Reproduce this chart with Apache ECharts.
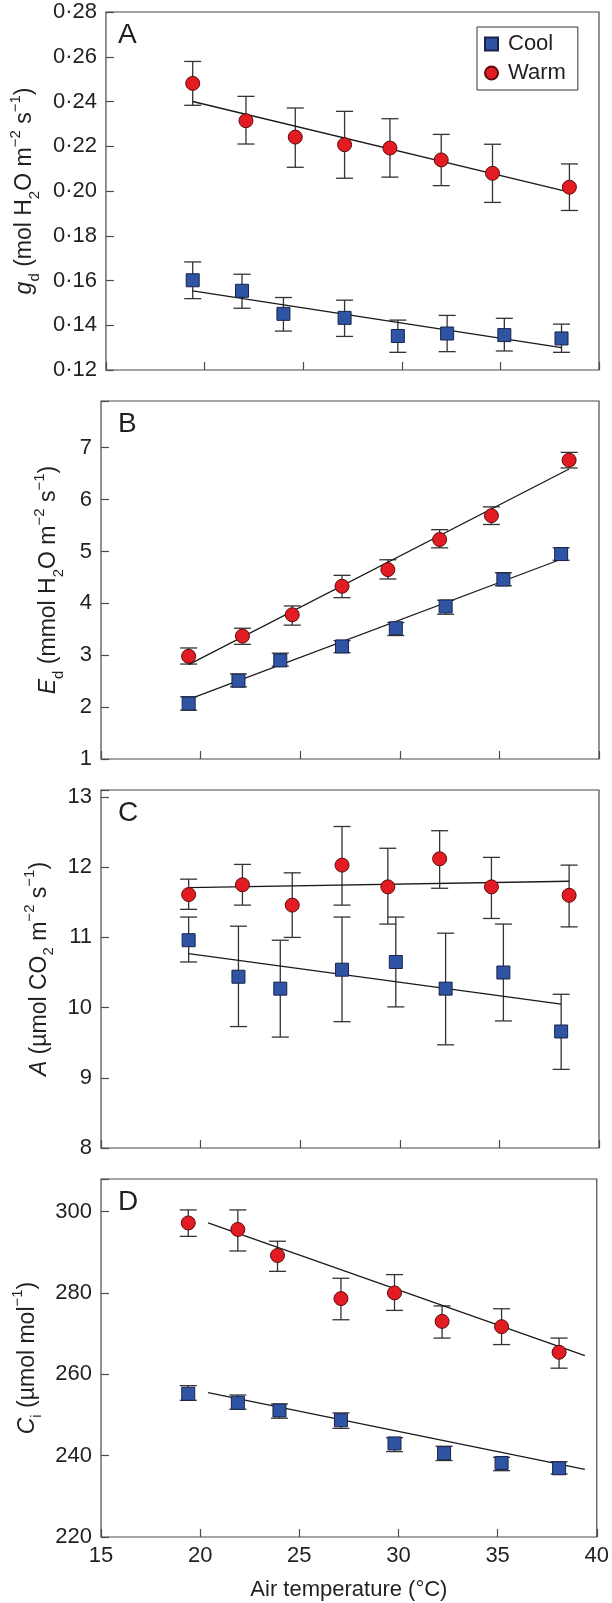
<!DOCTYPE html>
<html><head><meta charset="utf-8">
<script src="https://cdn.jsdelivr.net/npm/echarts@6/dist/echarts.min.js"></script>
<style>html,body{margin:0;padding:0;background:#fff}#c{width:612px;height:1603px}</style>
</head><body><div id="c"></div>
<script>
// ---- shared x (air temperature, °C) ----
const xTickLabels = ['15','20','25','30','35','40'];
const xCool  = [19.4, 21.9, 24.0, 27.1, 29.8, 32.3, 35.2, 38.1];
const xWarm  = [19.4, 22.1, 24.6, 27.1, 29.4, 32.0, 34.6, 38.5];
const xWarmD = [19.4, 21.9, 23.9, 27.1, 29.8, 32.2, 35.2, 38.1];
const xFitCool = [19.4, 38.1];
const xFitWarm = [19.4, 38.5];
const xFitD = [20.4, 39.4];

// ---- Panel A: gd ----
const yTicksA = ['0·12','0·14','0·16','0·18','0·20','0·22','0·24','0·26','0·28'];
const gdCool   = [0.1601, 0.1554, 0.1451, 0.1433, 0.1352, 0.1363, 0.1356, 0.1341];
const gdCoolHi = [0.1683, 0.1628, 0.1524, 0.1512, 0.1423, 0.1444, 0.1431, 0.1405];
const gdCoolLo = [0.1519, 0.1476, 0.1374, 0.1350, 0.1279, 0.1282, 0.1285, 0.1279];
const gdWarm   = [0.2481, 0.2314, 0.2241, 0.2207, 0.2192, 0.2139, 0.2079, 0.2017];
const gdWarmHi = [0.2579, 0.2423, 0.2371, 0.2356, 0.2323, 0.2253, 0.2209, 0.2121];
const gdWarmLo = [0.2383, 0.2210, 0.2106, 0.2057, 0.2062, 0.2024, 0.1949, 0.1913];
const gdCoolFit = [0.1554, 0.1300];
const gdWarmFit = [0.2400, 0.1995];

// ---- Panel B: Ed ----
const yTicksB = ['1','2','3','4','5','6','7'];
const edCool   = [2.07, 2.51, 2.90, 3.17, 3.52, 3.94, 4.46, 4.95];
const edCoolHi = [2.20, 2.64, 3.04, 3.28, 3.63, 4.06, 4.59, 5.07];
const edCoolLo = [1.94, 2.39, 2.79, 3.05, 3.38, 3.79, 4.34, 4.83];
const edWarm   = [2.98, 3.37, 3.78, 4.33, 4.65, 5.23, 5.69, 6.76];
const edWarmHi = [3.14, 3.52, 3.95, 4.54, 4.84, 5.42, 5.86, 6.91];
const edWarmLo = [2.83, 3.21, 3.58, 4.11, 4.47, 5.07, 5.52, 6.61];
const edCoolFit = [2.15, 4.85];
const edWarmFit = [2.82, 6.59];

// ---- Panel C: A ----
const yTicksC = ['8','9','10','11','12','13'];
const aCool   = [10.96, 10.44, 10.27, 10.54, 10.65, 10.27, 10.50, 9.66];
const aCoolHi = [11.29, 11.16, 10.96, 11.29, 11.29, 11.06, 11.19, 10.19];
const aCoolLo = [10.65, 9.73, 9.58, 9.80, 10.01, 9.47, 9.81, 9.12];
const aWarm   = [11.61, 11.75, 11.46, 12.03, 11.72, 12.12, 11.72, 11.60];
const aWarmHi = [11.83, 12.04, 11.92, 12.58, 12.27, 12.52, 12.14, 12.03];
const aWarmLo = [11.40, 11.46, 11.00, 11.46, 11.19, 11.70, 11.27, 11.15];
const aCoolFit = [10.77, 10.05];
const aWarmFit = [11.71, 11.80];

// ---- Panel D: Ci ----
const yTicksD = ['220','240','260','280','300'];
const ciCool   = [255.2, 253.0, 251.1, 248.7, 243.0, 240.6, 238.2, 236.9];
const ciCoolHi = [257.2, 254.9, 252.7, 250.5, 244.4, 242.3, 239.6, 238.5];
const ciCoolLo = [253.6, 251.4, 249.2, 246.7, 241.0, 238.8, 236.3, 235.5];
const ciWarm   = [297.2, 295.6, 289.2, 278.6, 280.0, 273.0, 271.7, 265.4];
const ciWarmHi = [300.4, 300.4, 292.7, 283.6, 284.5, 276.8, 276.1, 268.9];
const ciWarmLo = [293.9, 290.3, 285.3, 273.4, 275.7, 268.9, 267.3, 261.5];
const ciCoolFit = [255.5, 236.6];
const ciWarmFit = [297.2, 264.6];

const FONT = 'Liberation Sans, Arial, Helvetica, sans-serif';
const TXT = '#231f20';
const AX = '#4a4a4a';
const RED = '#e31b23', RED_B = '#5a0c0c';
const BLUE = '#2f54a4', BLUE_B = '#18244a';

const panels = [
  {letter:'A', min:0.12, max:0.28, interval:0.02, ticks:yTicksA, nameGap:59,
   name:'{i|g}{sb|d}{n| (mol H}{sb|2}{n|O m}{sp|−2}{n| s}{sp|−1}{n|)}',
   cool:gdCool, coolHi:gdCoolHi, coolLo:gdCoolLo, warm:gdWarm, warmHi:gdWarmHi, warmLo:gdWarmLo,
   xw:xWarm, fitX:[xFitCool, xFitWarm], coolFit:gdCoolFit, warmFit:gdWarmFit},
  {letter:'B', min:1, max:7.9, interval:1, ticks:yTicksB, nameGap:35,
   name:'{i|E}{sb|d}{n| (mmol H}{sb|2}{n|O m}{sp|−2}{n| s}{sp|−1}{n|)}',
   cool:edCool, coolHi:edCoolHi, coolLo:edCoolLo, warm:edWarm, warmHi:edWarmHi, warmLo:edWarmLo,
   xw:xWarm, fitX:[xFitCool, xFitWarm], coolFit:edCoolFit, warmFit:edWarmFit},
  {letter:'C', min:8, max:13.1, interval:1, ticks:yTicksC, nameGap:38,
   name:'{i|A}{n| (µmol CO}{sb|2}{n| m}{sp|−2}{n| s}{sp|−1}{n|)}',
   cool:aCool, coolHi:aCoolHi, coolLo:aCoolLo, warm:aWarm, warmHi:aWarmHi, warmLo:aWarmLo,
   xw:xWarm, fitX:[xFitCool, xFitWarm], coolFit:aCoolFit, warmFit:aWarmFit},
  {letter:'D', min:220, max:308, interval:20, ticks:yTicksD, nameGap:51,
   name:'{i|C}{sb|i}{n| (µmol mol}{sp|−1}{n|)}',
   cool:ciCool, coolHi:ciCoolHi, coolLo:ciCoolLo, warm:ciWarm, warmHi:ciWarmHi, warmLo:ciWarmLo,
   xw:xWarmD, fitX:[xFitD, xFitD], coolFit:ciCoolFit, warmFit:ciWarmFit}
];
const gridTops = [12, 401, 790, 1179];
const GRID_H = 358;

const rich = {
  n:{fontFamily:FONT, fontSize:23, color:TXT, lineHeight:34},
  i:{fontFamily:FONT, fontSize:23, color:TXT, fontStyle:'italic', lineHeight:34},
  sb:{fontFamily:FONT, fontSize:15, color:TXT, verticalAlign:'bottom', lineHeight:16},
  sp:{fontFamily:FONT, fontSize:15, color:TXT, verticalAlign:'top', lineHeight:16}
};

function errRender(params, api) {
  const x = api.value(0), lo = api.value(1), hi = api.value(2);
  const a = api.coord([x, hi]), b = api.coord([x, lo]);
  const w = 8.5;
  const style = {stroke:'#333', lineWidth:1.3};
  return {type:'group', children:[
    {type:'line', shape:{x1:a[0], y1:a[1], x2:b[0], y2:b[1]}, style},
    {type:'line', shape:{x1:a[0]-w, y1:a[1], x2:a[0]+w, y2:a[1]}, style},
    {type:'line', shape:{x1:b[0]-w, y1:b[1], x2:b[0]+w, y2:b[1]}, style}
  ]};
}

const grid = [], xAxis = [], yAxis = [], series = [], title = [];
panels.forEach((p, k) => {
  grid.push({left:101, right:13, top:gridTops[k], height:GRID_H, show:true,
    borderColor:AX, borderWidth:1.2, backgroundColor:'transparent'});
  title.push({text:p.letter, left:118, top:gridTops[k] + 9, padding:0,
    textStyle:{fontFamily:FONT, fontSize:28, fontWeight:'normal', color:TXT}});
  xAxis.push({gridIndex:k, type:'value', min:15, max:40, interval:5,
    axisLine:{show:false}, splitLine:{show:false},
    axisTick:{inside:true, length:8, lineStyle:{color:AX, width:1.2}},
    axisLabel:{show:k === 3, margin:8, fontFamily:FONT, fontSize:22, color:TXT,
      formatter:v => xTickLabels[Math.round((v - 15) / 5)] || ''},
    name:k === 3 ? 'Air temperature (°C)' : '', nameLocation:'middle', nameGap:42,
    nameTextStyle:{fontFamily:FONT, fontSize:22, color:TXT}});
  yAxis.push({gridIndex:k, type:'value', min:p.min, max:p.max, interval:p.interval,
    axisLine:{show:false}, splitLine:{show:false},
    axisTick:{inside:true, length:8, lineStyle:{color:AX, width:1.2}},
    axisLabel:{margin:9, fontFamily:FONT, fontSize:22, color:TXT,
      formatter:v => {
        const idx = Math.round((v - p.min) / p.interval);
        if (Math.abs(p.min + idx * p.interval - v) > p.interval * 1e-3) return '';
        return p.ticks[idx] || '';
      }},
    name:p.name, nameLocation:'middle', nameRotate:90, nameGap:p.nameGap,
    nameTextStyle:{rich:rich, fontFamily:FONT, fontSize:23, color:TXT}});
  const mkErr = (xs, lo, hi) => xs.map((x, i) => [x, lo[i], hi[i]]);
  series.push({type:'custom', name:'errCool' + k, xAxisIndex:k, yAxisIndex:k, z:2,
    renderItem:errRender, encode:{x:0, y:[1, 2]}, data:mkErr(xCool, p.coolLo, p.coolHi)});
  series.push({type:'custom', name:'errWarm' + k, xAxisIndex:k, yAxisIndex:k, z:2,
    renderItem:errRender, encode:{x:0, y:[1, 2]}, data:mkErr(p.xw, p.warmLo, p.warmHi)});
  series.push({type:'line', name:'fitCool' + k, xAxisIndex:k, yAxisIndex:k, z:3, symbol:'none',
    lineStyle:{color:'#1a1a1a', width:1.3}, data:p.fitX[0].map((x, i) => [x, p.coolFit[i]])});
  series.push({type:'line', name:'fitWarm' + k, xAxisIndex:k, yAxisIndex:k, z:3, symbol:'none',
    lineStyle:{color:'#1a1a1a', width:1.3}, data:p.fitX[1].map((x, i) => [x, p.warmFit[i]])});
  series.push({type:'scatter', name:'Cool', xAxisIndex:k, yAxisIndex:k, z:4, symbol:'rect', symbolSize:13,
    itemStyle:{color:BLUE, borderColor:BLUE_B, borderWidth:1, opacity:1},
    data:xCool.map((x, i) => [x, p.cool[i]])});
  series.push({type:'scatter', name:'Warm', xAxisIndex:k, yAxisIndex:k, z:4, symbol:'circle', symbolSize:14,
    itemStyle:{color:RED, borderColor:RED_B, borderWidth:1, opacity:1},
    data:p.xw.map((x, i) => [x, p.warm[i]])});
});

const chart = echarts.init(document.getElementById('c'), null, {renderer:'canvas'});
chart.setOption({
  animation:false,
  backgroundColor:'#fff',
  title:title,
  legend:{data:[{name:'Cool', icon:'rect'}, {name:'Warm', icon:'circle'}],
    orient:'vertical', left:477, top:27, padding:[6, 12, 6, 7], itemGap:7,
    itemWidth:13, itemHeight:13, borderColor:'#333', borderWidth:1, backgroundColor:'#fff',
    selectedMode:false,
    textStyle:{fontFamily:FONT, fontSize:22, color:TXT, padding:[0, 0, 0, 5]}},
  grid:grid, xAxis:xAxis, yAxis:yAxis, series:series
});
</script></body></html>
